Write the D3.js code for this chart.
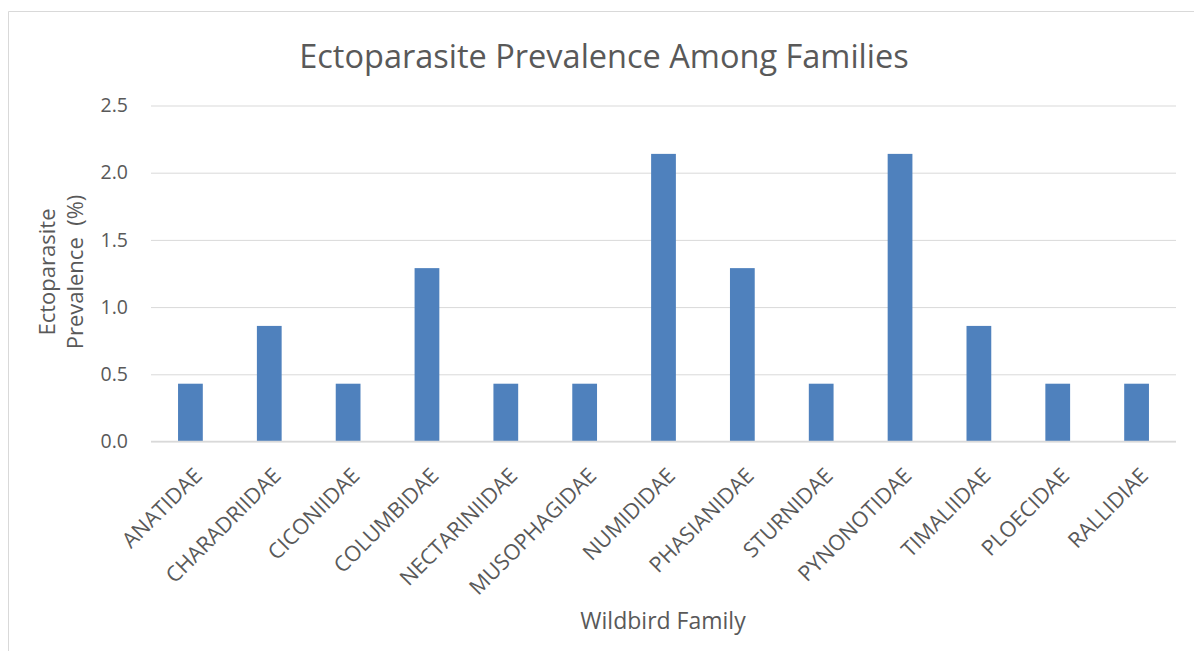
<!DOCTYPE html>
<html>
<head>
<meta charset="utf-8">
<script src="https://cdn.jsdelivr.net/npm/d3@7"></script>
<style>
  body { margin: 0; background: #fff; }
  text { font-family: "Open Sans", "Liberation Sans", sans-serif; fill: #595959; }
</style>
</head>
<body>
<script>
const families = ['ANATIDAE', 'CHARADRIIDAE', 'CICONIIDAE', 'COLUMBIDAE', 'NECTARINIIDAE', 'MUSOPHAGIDAE',
  'NUMIDIDAE', 'PHASIANIDAE', 'STURNIDAE', 'PYNONOTIDAE', 'TIMALIIDAE', 'PLOECIDAE', 'RALLIDIAE']
const prevalence = [0.43, 0.86, 0.43, 1.29, 0.43, 0.43, 2.14, 1.29, 0.43, 2.14, 0.86, 0.43, 0.43]
const yTicks = [0, 0.5, 1.0, 1.5, 2.0, 2.5]

const svg = d3.select('body').append('svg').attr('width', 1194).attr('height', 651)

// chart frame (cut off at right and bottom like the source)
svg.append('path')
  .attr('d', 'M8.5,651 V11.5 H1194')
  .attr('fill', 'none')
  .attr('stroke', '#d9d9d9')
  .attr('stroke-width', 1)

const x = d3.scaleBand()
  .domain(families)
  .range([151, 1176])
  .paddingInner(0.686)
  .paddingOuter(0.343)

const y = d3.scaleLinear()
  .domain([0, 2.5])
  .range([441.5, 105.5])

// gridlines + y labels
const yAxis = d3.axisLeft(y)
  .tickValues(yTicks)
  .tickSize(-(1176 - 151))
  .tickPadding(23)
  .tickFormat(d3.format('.1f'))

const gy = svg.append('g')
  .attr('transform', 'translate(151,0)')
  .call(yAxis)
gy.select('.domain').remove()
gy.selectAll('line').attr('stroke', '#d9d9d9').attr('stroke-width', 1)
gy.selectAll('text').attr('font-size', 19.5).style('fill', '#595959')
  .style('font-family', '"Open Sans", sans-serif')

// bars
svg.selectAll('rect.bar')
  .data(prevalence)
  .enter().append('rect')
    .attr('class', 'bar')
    .attr('fill', '#4f81bd')
    .attr('x', function(d, i) { return x(families[i]) })
    .attr('width', x.bandwidth())
    .attr('y', function(d) { return y(d) })
    .attr('height', function(d) { return y(0) - y(d) })

// x axis baseline
svg.append('line')
  .attr('x1', 151).attr('x2', 1176)
  .attr('y1', y(0)).attr('y2', y(0))
  .attr('stroke', '#d9d9d9')
  .attr('stroke-width', 1.5)

// x labels, rotated
svg.selectAll('text.xlab')
  .data(families)
  .enter().append('text')
    .attr('class', 'xlab')
    .attr('text-anchor', 'end')
    .attr('font-size', 21.5)
    .attr('transform', function(d) {
      return 'translate(' + (x(d) + x.bandwidth() / 2 + 2) + ',466) rotate(-45)'
    })
    .attr('dy', '0.72em')
    .text(function(d) { return d })

// title
svg.append('text')
  .attr('x', 604)
  .attr('y', 68)
  .attr('text-anchor', 'middle')
  .attr('font-size', 32.5)
  .text('Ectoparasite Prevalence Among Families')

// x axis title
svg.append('text')
  .attr('x', 663)
  .attr('y', 629)
  .attr('text-anchor', 'middle')
  .attr('font-size', 23)
  .text('Wildbird Family')

// y axis title, two lines
const yTitle = svg.append('text')
  .attr('transform', 'translate(55,272) rotate(-90)')
  .attr('text-anchor', 'middle')
  .attr('font-size', 22)
yTitle.append('tspan').attr('x', 0).attr('dy', 0).text('Ectoparasite')
yTitle.append('tspan').attr('x', 0).attr('dy', 28).text('Prevalence\u00a0\u00a0(%)')
</script>
</body>
</html>
